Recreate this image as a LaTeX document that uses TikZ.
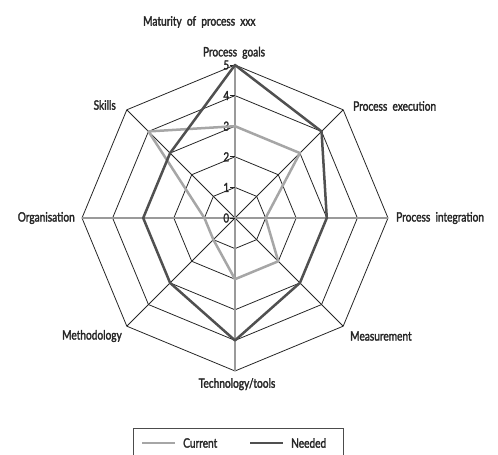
\documentclass[tikz,border=0pt]{standalone}
\usepackage{fontspec}
\setmainfont{Lato}[FakeStretch=0.78, FakeBold=2, WordSpace=2]
\usetikzlibrary{calc}
\definecolor{curgray}{HTML}{A6A6A6}
\definecolor{needgray}{HTML}{505050}
\definecolor{axgray}{HTML}{9A9A9A}
\begin{document}
\begin{tikzpicture}[x=1pt,y=1pt,
  lbl/.style={font=\fontsize{13}{15}\selectfont, inner sep=0pt, text=black!85},
  ticklbl/.style={font=\fontsize{12.5}{15}\selectfont, inner sep=0pt, text=black!85},
  gridline/.style={draw=black!85, line width=0.8pt},
  mainaxis/.style={draw=axgray, line width=1.4pt},
  diagaxis/.style={draw=black!85, line width=0.8pt},
  curline/.style={draw=curgray, line width=2.5pt, line join=round},
  needline/.style={draw=needgray, line width=2.5pt, line join=round},
  legbox/.style={draw=black!70, line width=0.8pt}]
\useasboundingbox (0,0) rectangle (498,455);
\def\R{30.6}
\coordinate (C) at (235,237);
% axis end points
\foreach \n/\a in {pg/90,pe/45,pi/0,me/-45,tt/-90,mt/-135,org/180,sk/135}
  \coordinate (\n) at ($(C)+(\a:{5*\R})$);
% grid octagons
\foreach \r in {1,...,5}
  \draw[gridline] ($(C)+(90:{\r*\R})$) -- ($(C)+(45:{\r*\R})$) -- ($(C)+(0:{\r*\R})$) -- ($(C)+(-45:{\r*\R})$)
    -- ($(C)+(-90:{\r*\R})$) -- ($(C)+(-135:{\r*\R})$) -- ($(C)+(180:{\r*\R})$) -- ($(C)+(135:{\r*\R})$) -- cycle;
% spokes
\foreach \n in {pe,me,mt,sk} \draw[diagaxis] (C) -- (\n);
\draw[mainaxis] (org) -- (pi);
\draw[mainaxis] (tt) -- (pg);
% ticks and value labels
\foreach \i in {0,...,5} {
  \coordinate (t\i) at ($(C)+(0,{\i*\R})$);
  \draw[draw=black!85, line width=0.8pt] (t\i) -- ++(-5,0) node[ticklbl, anchor=east, xshift=-0.5pt] (v\i) {\i};
}
% data
\draw[curline] ($(C)+(90:{3*\R})$) -- ($(C)+(45:{3*\R})$) -- ($(C)+(0:{1*\R})$) -- ($(C)+(-45:{2*\R})$)
  -- ($(C)+(-90:{2*\R})$) -- ($(C)+(-135:{1*\R})$) -- ($(C)+(180:{1*\R})$) -- ($(C)+(135:{4*\R})$) -- cycle;
\draw[needline] ($(C)+(90:{5*\R})$) -- ($(C)+(45:{4*\R})$) -- ($(C)+(0:{3*\R})$) -- ($(C)+(-45:{3*\R})$)
  -- ($(C)+(-90:{4*\R})$) -- ($(C)+(-135:{3*\R})$) -- ($(C)+(180:{3*\R})$) -- ($(C)+(135:{3*\R})$) -- cycle;
% labels
\node[lbl, anchor=west] (title) at (143,433) {Maturity of process xxx};
\node[lbl, anchor=south] (lpg) at ($(pg)+(-1,6)$) {Process goals};
\node[lbl, anchor=west] (lpe) at (353,349) {Process execution};
\node[lbl, anchor=west] (lpi) at (396,237) {Process integration};
\node[lbl, anchor=west] (lme) at (350,119) {Measurement};
\node[lbl, anchor=north] (ltt) at ($(tt)+(2,-7)$) {Technology/tools};
\node[lbl, anchor=east] (lmt) at (122,119) {Methodology};
\node[lbl, anchor=east] (lorg) at (75,237) {Organisation};
\node[lbl, anchor=east] (lsk) at (116,350) {Skills};
% legend
\coordinate (b1) at (133,-2);
\coordinate (b2) at (133,27);
\coordinate (b3) at (343,27);
\coordinate (b4) at (343,-2);
\draw[legbox] (b1) -- (b2) -- (b3) -- (b4);
\coordinate (c1) at (142,12);
\coordinate (c2) at (175,12);
\coordinate (n1) at (250,12);
\coordinate (n2) at (283,12);
\draw[curline] (c1) -- (c2);
\node[lbl, anchor=west] (lcur) at (183,12) {Current};
\draw[needline] (n1) -- (n2);
\node[lbl, anchor=west] (lneed) at (291,12) {Needed};
\end{tikzpicture}
\end{document}
